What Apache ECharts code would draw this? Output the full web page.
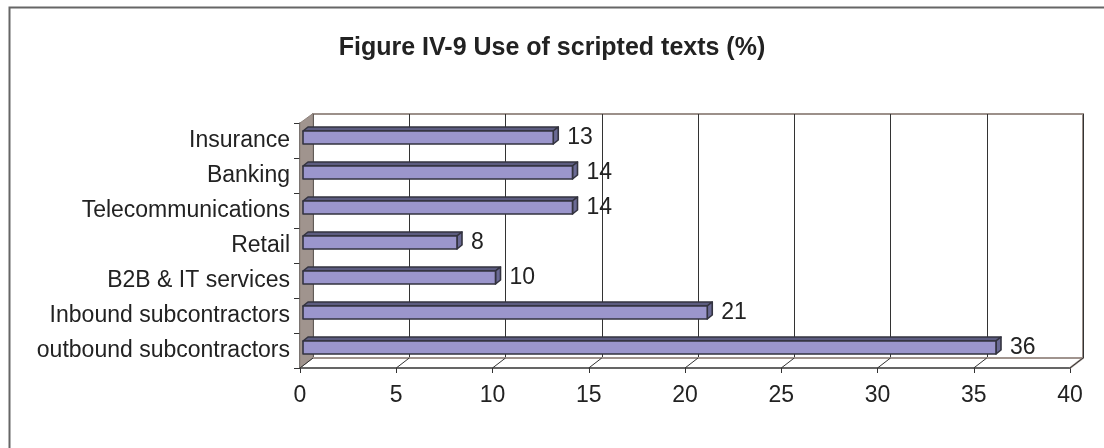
<!DOCTYPE html>
<html>
<head>
<meta charset="utf-8">
<script src="https://cdn.jsdelivr.net/npm/echarts@6/dist/echarts.min.js"></script>
<style>
  html, body { margin: 0; padding: 0; background: #fff; }
  #chart { width: 1104px; height: 448px; }
</style>
</head>
<body>
<div id="chart"></div>
<script>
// data
var categories = ['Insurance', 'Banking', 'Telecommunications', 'Retail', 'B2B & IT services', 'Inbound subcontractors', 'outbound subcontractors']
var values = [13, 14, 14, 8, 10, 21, 36]
var xTicks = [0, 5, 10, 15, 20, 25, 30, 35, 40]

var FONT = 'Liberation Sans, Arial, sans-serif'
var DX = 13 // depth of the 3D box
var DY = 10

var chart = echarts.init(document.getElementById('chart'))

// bars drawn as little 3D boxes
function renderBar(params, api) {
  var v = api.value(0)
  var i = api.value(1)
  var p0 = api.coord([0, i])
  var p1 = api.coord([v, i])
  var cy = p0[1]
  var x0 = p0[0] + 3
  var x1 = p1[0] + 3
  var y0 = cy - 9.5
  var y1 = cy + 3.5
  var bx = 5
  var by = 4
  var line = { stroke: '#33333f', lineWidth: 1.6, lineJoin: 'round' }
  return {
    type: 'group',
    children: [
      { type: 'polygon', shape: { points: [[x0, y0], [x0 + bx, y0 - by], [x1 + bx, y0 - by], [x1, y0]] },
        style: Object.assign({ fill: '#5c5c80' }, line) },
      { type: 'polygon', shape: { points: [[x1, y0], [x1 + bx, y0 - by], [x1 + bx, y1 - by], [x1, y1]] },
        style: Object.assign({ fill: '#6a6a94' }, line) },
      { type: 'rect', shape: { x: x0, y: y0, width: x1 - x0, height: y1 - y0 },
        style: Object.assign({ fill: '#9b96cc' }, line) },
      { type: 'text', x: p1[0] + 17, y: cy - 3,
        style: { text: String(v), fill: '#222', font: '23px ' + FONT, textAlign: 'left', textVerticalAlign: 'middle' } }
    ]
  }
}

// left wall and floor edges of the box
function renderWall(params, api) {
  var cs = params.coordSys
  var x = cs.x
  var top = cs.y
  var bottom = cs.y + cs.height
  return {
    type: 'group',
    children: [
      { type: 'polygon', shape: { points: [[x, top], [x + DX, top - DY + 0.5], [x + DX, bottom - DY], [x, bottom]] },
        style: { fill: '#a0948e', stroke: '#8f837d', lineWidth: 1 } },
      { type: 'line', shape: { x1: x + DX, y1: bottom - DY, x2: cs.x + cs.width + DX, y2: bottom - DY },
        style: { stroke: '#a0948e', lineWidth: 2 } },
      { type: 'line', shape: { x1: cs.x + cs.width, y1: bottom, x2: cs.x + cs.width + DX, y2: bottom - DY },
        style: { stroke: '#a0948e', lineWidth: 2 } }
    ]
  }
}

// floor lines from the front ticks to the back gridlines
function renderFloor(params, api) {
  var cs = params.coordSys
  var p = api.coord([api.value(0), 0])
  var bottom = cs.y + cs.height
  return {
    type: 'line',
    shape: { x1: p[0], y1: bottom, x2: p[0] + DX, y2: bottom - DY },
    style: { stroke: '#333', lineWidth: 1 }
  }
}

var option = {
  animation: false,
  backgroundColor: '#fff',
  title: {
    text: 'Figure IV-9 Use of scripted texts (%)',
    left: 'center',
    top: 31,
    textStyle: { fontFamily: FONT, fontSize: 25, fontWeight: 'bold', color: '#222' }
  },
  graphic: [
    { type: 'rect', left: 7, top: 5, shape: { width: 1200, height: 1000 },
      style: { fill: 'none', stroke: '#666', lineWidth: 2 }, silent: true, z: -10 }
  ],
  grid: [
    { left: 300, right: 34, top: 123, bottom: 80 },
    { left: 300 + DX, right: 34 - DX, top: 123 - DY + 1, bottom: 80 + DY, show: true,
      backgroundColor: '#fff', borderColor: '#9c908a', borderWidth: 2, z: 0 }
  ],
  xAxis: [
    {
      type: 'value', gridIndex: 0, min: 0, max: 40, interval: 5,
      axisLine: { show: true, lineStyle: { color: '#333', width: 1.5 } },
      axisTick: { show: true, length: 5, lineStyle: { color: '#333' } },
      axisLabel: { fontFamily: FONT, fontSize: 23, color: '#222', margin: 16 },
      splitLine: { show: false }
    },
    {
      type: 'value', gridIndex: 1, min: 0, max: 40, interval: 5,
      axisLine: { show: false }, axisTick: { show: false }, axisLabel: { show: false },
      splitLine: { show: true, lineStyle: { color: '#333', width: 1 } }
    }
  ],
  yAxis: [
    {
      type: 'category', gridIndex: 0, data: categories, inverse: true,
      axisLine: { show: true, lineStyle: { color: '#333', width: 1.5 } },
      axisTick: { show: true, length: 6, lineStyle: { color: '#333' } },
      axisLabel: { fontFamily: FONT, fontSize: 23, color: '#222', margin: 10 },
      splitLine: { show: false }
    },
    {
      type: 'category', gridIndex: 1, data: categories, inverse: true, show: false
    }
  ],
  series: [
    {
      type: 'custom', xAxisIndex: 0, yAxisIndex: 0, z: 3,
      renderItem: renderWall, data: [[0, 0]], silent: true
    },
    {
      type: 'custom', xAxisIndex: 0, yAxisIndex: 0, z: 3,
      renderItem: renderFloor, data: xTicks.map(function(t) { return [t] }), silent: true
    },
    {
      type: 'custom', xAxisIndex: 0, yAxisIndex: 0, z: 5,
      renderItem: renderBar,
      encode: { x: 0, y: 1 },
      data: values.map(function(v, i) { return [v, i] })
    }
  ]
}

chart.setOption(option)
</script>
</body>
</html>
